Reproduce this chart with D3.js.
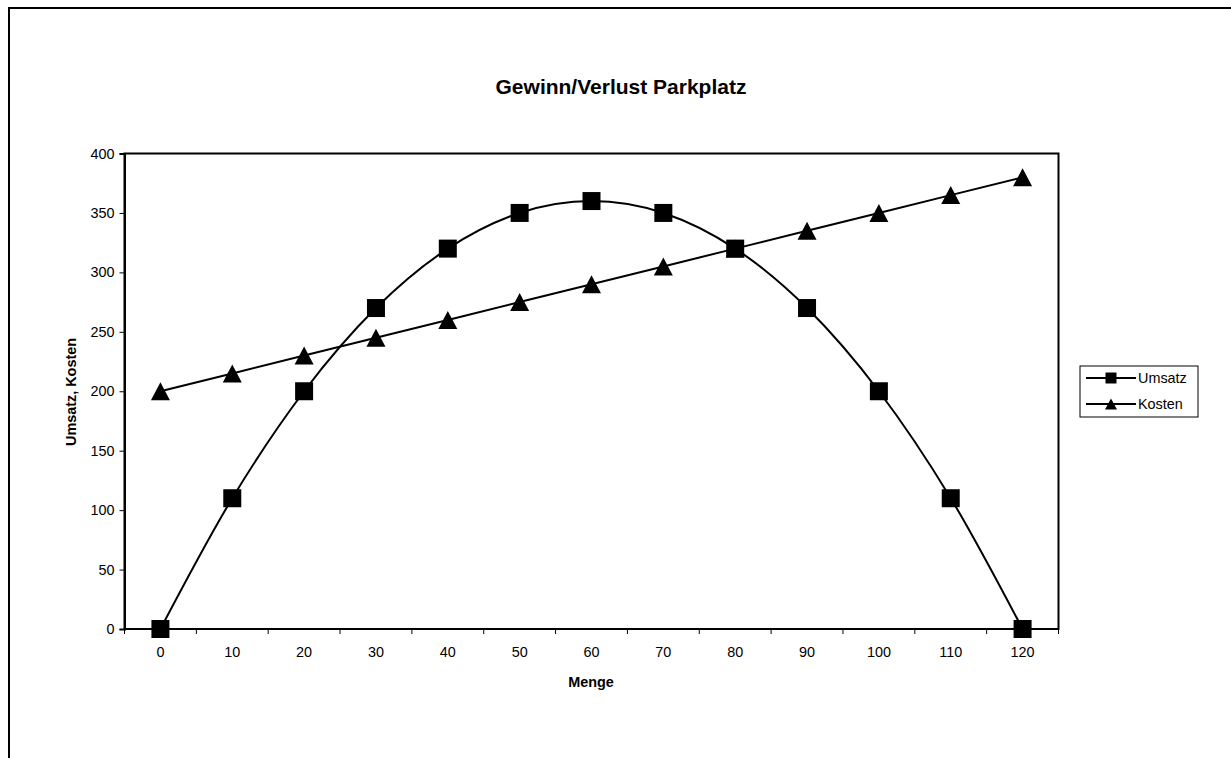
<!DOCTYPE html>
<html>
<head>
<meta charset="utf-8">
<script src="https://cdn.jsdelivr.net/npm/d3@7"></script>
<style>
  body { margin: 0; background: #fff; }
  text { font-family: "Liberation Sans", Arial, sans-serif; fill: #000; }
</style>
</head>
<body>
<div id="chart"></div>
<script>
// donnees
var mengen = [0, 10, 20, 30, 40, 50, 60, 70, 80, 90, 100, 110, 120];
var umsatz = [0, 110, 200, 270, 320, 350, 360, 350, 320, 270, 200, 110, 0];
var kosten = [200, 215, 230, 245, 260, 275, 290, 305, 320, 335, 350, 365, 380];
var yTicks = [0, 50, 100, 150, 200, 250, 300, 350, 400];

var largeur = 1231, hauteur = 758;
var svg = d3.select("#chart").append("svg")
  .attr("width", largeur)
  .attr("height", hauteur);

// cadre exterieur
svg.append("rect")
  .attr("x", 9).attr("y", 8)
  .attr("width", 1240).attr("height", 800)
  .attr("fill", "none").attr("stroke", "#000").attr("stroke-width", 2);

var plot = { left: 124.5, top: 153.5, right: 1058.5, bottom: 629 };

var x = d3.scaleBand()
  .domain(mengen)
  .range([plot.left, plot.right]);
var y = d3.scaleLinear()
  .domain([0, 400])
  .range([plot.bottom, plot.top]);

// titre
svg.append("text")
  .attr("x", 621).attr("y", 94)
  .attr("text-anchor", "middle")
  .attr("font-size", "21px")
  .attr("font-weight", "bold")
  .text("Gewinn/Verlust Parkplatz");

// zone du graphique
svg.append("rect")
  .attr("x", plot.left).attr("y", plot.top)
  .attr("width", plot.right - plot.left).attr("height", plot.bottom - plot.top)
  .attr("fill", "none").attr("stroke", "#000").attr("stroke-width", 2);

// axe y
var axeY = svg.append("g")
  .attr("transform", "translate(" + plot.left + ",0)")
  .call(d3.axisLeft(y).tickValues(yTicks).tickSize(5).tickPadding(5));
axeY.select(".domain").attr("stroke-width", 2);
axeY.selectAll("line").attr("stroke-width", 1);
axeY.selectAll("text").attr("font-size", "14.4px").attr("font-family", "Liberation Sans, Arial, sans-serif");

// axe x : graduations entre les categories
var axeX = svg.append("g")
  .attr("transform", "translate(0," + plot.bottom + ")");
axeX.append("line")
  .attr("x1", plot.left).attr("x2", plot.right)
  .attr("stroke", "#000").attr("stroke-width", 2);
var bords = mengen.map(function(d){ return x(d); }).concat([plot.right]);
axeX.selectAll(".tick")
  .data(bords)
  .enter().append("line")
  .attr("x1", function(d){ return d; })
  .attr("x2", function(d){ return d; })
  .attr("y1", 0).attr("y2", 5)
  .attr("stroke", "#000").attr("stroke-width", 1);
axeX.selectAll(".lbl")
  .data(mengen)
  .enter().append("text")
  .attr("x", function(d){ return x(d) + x.bandwidth() / 2; })
  .attr("y", 28)
  .attr("text-anchor", "middle")
  .attr("font-size", "14.4px")
  .text(function(d){ return d; });

// titres des axes
svg.append("text")
  .attr("x", 591).attr("y", 687)
  .attr("text-anchor", "middle")
  .attr("font-size", "14.4px").attr("font-weight", "bold")
  .text("Menge");
svg.append("text")
  .attr("transform", "translate(76,392) rotate(-90)")
  .attr("text-anchor", "middle")
  .attr("font-size", "14.4px").attr("font-weight", "bold")
  .text("Umsatz, Kosten");

function cx(i){ return x(mengen[i]) + x.bandwidth() / 2; }

// courbes
var courbeLisse = d3.line()
  .x(function(d, i){ return cx(i); })
  .y(function(d){ return y(d); })
  .curve(d3.curveCardinal.tension(0));
var courbeDroite = d3.line()
  .x(function(d, i){ return cx(i); })
  .y(function(d){ return y(d); });

svg.append("path")
  .attr("d", courbeLisse(umsatz))
  .attr("fill", "none").attr("stroke", "#000").attr("stroke-width", 2);
svg.append("path")
  .attr("d", courbeDroite(kosten))
  .attr("fill", "none").attr("stroke", "#000").attr("stroke-width", 2);

// triangle centre sur sa boite (comme Excel)
function triangleBoite(l, h){
  return { draw: function(ctx){
    ctx.moveTo(0, -h / 2);
    ctx.lineTo(l / 2, h / 2);
    ctx.lineTo(-l / 2, h / 2);
    ctx.closePath();
  }};
}

var carre = d3.symbol().type(d3.symbolSquare).size(18 * 18);
var triangle = d3.symbol().type(triangleBoite(19, 18));

svg.selectAll(".umsatz")
  .data(umsatz)
  .enter().append("path")
  .attr("class", "umsatz")
  .attr("d", carre)
  .attr("transform", function(d, i){ return "translate(" + cx(i) + "," + y(d) + ")"; })
  .attr("fill", "#000");

svg.selectAll(".kosten")
  .data(kosten)
  .enter().append("path")
  .attr("class", "kosten")
  .attr("d", triangle)
  .attr("transform", function(d, i){ return "translate(" + cx(i) + "," + y(d) + ")"; })
  .attr("fill", "#000");

// legende
var legende = svg.append("g").attr("transform", "translate(1080,366)");
legende.append("rect")
  .attr("width", 118).attr("height", 51)
  .attr("fill", "#fff").attr("stroke", "#000").attr("stroke-width", 1);
var series = [
  { nom: "Umsatz", sym: d3.symbol().type(d3.symbolSquare).size(11 * 11) },
  { nom: "Kosten", sym: d3.symbol().type(triangleBoite(12, 11)) }
];
var items = legende.selectAll(".item")
  .data(series)
  .enter().append("g")
  .attr("transform", function(d, i){ return "translate(0," + (12 + i * 26) + ")"; });
items.append("line")
  .attr("x1", 6).attr("x2", 56)
  .attr("stroke", "#000").attr("stroke-width", 2);
items.append("path")
  .attr("d", function(d){ return d.sym(); })
  .attr("transform", "translate(31,0)")
  .attr("fill", "#000");
items.append("text")
  .attr("x", 58).attr("y", 5)
  .attr("font-size", "14.4px")
  .text(function(d){ return d.nom; });
</script>
</body>
</html>
